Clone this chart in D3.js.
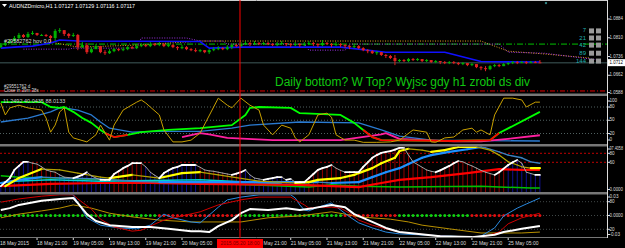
<!DOCTYPE html>
<html>
<head>
<meta charset="utf-8">
<script src="https://cdn.jsdelivr.net/npm/d3@7"></script>
<style>
body { margin: 0; background: #000; }
svg { display: block; }
text { font-family: "Liberation Sans", Arial, sans-serif; }
</style>
</head>
<body>
<svg id="chart" width="625" height="248"></svg>
<script>
// ---- data ----
const firstOpen = 1.0773;
const closes = [1.0781,1.0789,1.0797,1.0809,1.0821,1.0813,1.0825,1.0829,1.0821,1.0821,
1.0817,1.0809,1.0837,1.0840,1.0825,1.0817,1.0821,1.0773,1.0781,1.0753,
1.0765,1.0777,1.0753,1.0749,1.0757,1.0765,1.0761,1.0765,1.0773,1.0769,
1.0777,1.0781,1.0777,1.0785,1.0781,1.0785,1.0777,1.0781,1.0773,1.0769,
1.0773,1.0765,1.0761,1.0757,1.0761,1.0753,1.0761,1.0765,1.0769,1.0765,
1.0773,1.0781,1.0777,1.0785,1.0789,1.0785,1.0789,1.0785,1.0789,1.0785,
1.0781,1.0785,1.0789,1.0785,1.0781,1.0785,1.0781,1.0785,1.0789,1.0785,
1.0781,1.0789,1.0785,1.0781,1.0785,1.0781,1.0777,1.0773,1.0777,1.0769,
1.0761,1.0757,1.0749,1.0753,1.0742,1.0738,1.0730,1.0718,1.0722,1.0718,
1.0726,1.0722,1.0726,1.0718,1.0722,1.0714,1.0718,1.0714,1.0710,1.0714,
1.0710,1.0706,1.0710,1.0702,1.0706,1.0694,1.0690,1.0686,1.0698,1.0702,
1.0698,1.0706,1.0710,1.0714,1.0710,1.0714,1.0710,1.0714,1.0713,1.07117];
const highs = [1.0789,1.0797,1.0805,1.0817,1.0829,1.0825,1.0833,1.0837,1.0829,1.0825,
1.0825,1.0821,1.0844,1.0848,1.0840,1.0829,1.0829,1.0825,1.0793,1.0789,
1.0773,1.0785,1.0777,1.0761,1.0765,1.0769,1.0769,1.0773,1.0777,1.0777,
1.0785,1.0789,1.0785,1.0793,1.0789,1.0793,1.0789,1.0789,1.0785,1.0777,
1.0781,1.0777,1.0769,1.0769,1.0765,1.0761,1.0765,1.0773,1.0777,1.0773,
1.0781,1.0785,1.0785,1.0793,1.0797,1.0793,1.0797,1.0793,1.0793,1.0793,
1.0789,1.0793,1.0797,1.0789,1.0789,1.0793,1.0789,1.0793,1.0797,1.0793,
1.0789,1.0801,1.0793,1.0789,1.0793,1.0789,1.0785,1.0781,1.0785,1.0781,
1.0773,1.0765,1.0761,1.0757,1.0753,1.0746,1.0742,1.0742,1.0726,1.0726,
1.0730,1.0730,1.0730,1.0726,1.0726,1.0722,1.0722,1.0718,1.0718,1.0718,
1.0718,1.0714,1.0714,1.0710,1.0710,1.0706,1.0698,1.0698,1.0702,1.0706,
1.0706,1.0710,1.0714,1.0718,1.0718,1.0718,1.0718,1.0718,1.0718,1.0722];
const lows = [1.0769,1.0777,1.0785,1.0793,1.0805,1.0809,1.0809,1.0821,1.0817,1.0817,
1.0813,1.0793,1.0797,1.0829,1.0817,1.0809,1.0813,1.0761,1.0769,1.0746,
1.0749,1.0765,1.0749,1.0742,1.0746,1.0753,1.0757,1.0757,1.0761,1.0765,
1.0765,1.0773,1.0773,1.0773,1.0777,1.0777,1.0773,1.0773,1.0769,1.0761,
1.0765,1.0761,1.0757,1.0753,1.0753,1.0749,1.0746,1.0757,1.0761,1.0761,
1.0761,1.0765,1.0773,1.0773,1.0781,1.0777,1.0781,1.0781,1.0781,1.0781,
1.0777,1.0777,1.0781,1.0777,1.0773,1.0777,1.0773,1.0777,1.0781,1.0777,
1.0773,1.0777,1.0781,1.0773,1.0777,1.0773,1.0769,1.0765,1.0769,1.0765,
1.0757,1.0749,1.0746,1.0742,1.0738,1.0730,1.0726,1.0702,1.0714,1.0714,
1.0714,1.0718,1.0718,1.0714,1.0714,1.0710,1.0710,1.0706,1.0706,1.0706,
1.0706,1.0702,1.0702,1.0698,1.0698,1.0690,1.0682,1.0678,1.0682,1.0694,
1.0694,1.0698,1.0702,1.0706,1.0706,1.0710,1.0706,1.0710,1.0710,1.0714];

// main pane overlays: [bar, price]
const maBlue = [[0,1.0769],[3,1.0773],[7,1.0777],[11,1.0789],[13,1.0801],[17,1.0797],[44,1.0795],[46,1.0769],[53,1.0773],[75,1.0773],[85,1.0753],[98,1.0753],[106,1.0716],[119,1.0714]];
const dotPurple = [[5,1.0765],[15,1.0765],[16,1.0769],[30,1.0769],[31,1.0809],[41,1.0809],[44,1.0797],[49,1.0797],[50,1.0785],[67,1.0785],[68,1.0761],[76,1.0761],[77,1.0785],[110,1.0785],[112,1.0753],[120,1.0749],[132,1.0722]];
const dotOrange = [[11,1.0793],[17,1.0773],[30,1.0781],[44,1.0797],[92,1.0797],[106,1.0797],[112,1.0757],[120,1.0746],[130,1.0730]];
const levelGreen = 1.0785;
const levelRed = 1.0600;
const bidPrice = 1.07117;
const fibLabels = ["7", "21", "42", "89", "144"];
const fibPrices = [1.0837, 1.0809, 1.0781, 1.0749, 1.0718];
const priceTicks = [1.0884, 1.0810, 1.0736, 1.0662, 1.0588];

// sub window 1 : [bar, value]
const s1Gold = [[0,89],[1,62],[2,78],[4,84],[6,78],[9,73],[10,55],[11,23],[12,39],[13,69],[14,78],[15,23],[16,10],[19,1],[21,17],[22,39],[24,5],[25,39],[27,73],[30,91],[31,96],[32,89],[33,80],[35,62],[36,28],[38,1],[40,1],[42,5],[44,21],[48,100],[50,84],[51,78],[53,100],[55,84],[57,73],[58,39],[60,17],[62,39],[64,32],[65,10],[66,1],[68,17],[70,62],[72,66],[73,57],[74,17],[76,5],[78,5],[80,0],[83,0],[86,1],[88,5],[91,28],[94,23],[95,1],[96,0],[98,10],[100,12],[102,28],[104,32],[105,23],[106,28],[108,17],[109,62],[111,100],[113,100],[115,96],[116,80],[118,91],[119,91]];
const s1Green = [[0,91],[9,91],[11,80],[13,78],[14,80],[16,69],[18,55],[20,44],[22,28],[23,21],[25,12],[28,17],[31,23],[37,28],[44,32],[51,39],[54,62],[55,78],[57,80],[64,78],[66,66],[75,62],[78,44],[80,28],[82,12],[84,5],[100,3],[108,5],[110,21],[119,69]];
const s1Red = [[[23,21],[25,12],[28,17]], [[80,28],[82,12],[84,5],[100,3],[108,5],[110,21]]];
const s1Pink = [[40,12],[44,21],[46,18],[50,10],[60,5],[75,5],[84,18],[85,21],[88,8],[100,2],[106,2],[112,8],[119,16]];
const s1Blue = [[0,46],[6,55],[11,69],[13,78],[14,78],[17,73],[20,62],[22,46],[24,32],[29,23],[35,25],[44,25],[51,32],[55,39],[66,46],[79,44],[84,28],[88,14],[95,5],[119,3]];
const s1Levels = [80, 50, 20];
const s1Ticks = [100, 80, 50, 20, 0];

// sub window 2
const s2White = [7,16,25,43,52,61,61,58,56,50,43,40,38,32,27,26,25,28,32,38,
30,25,21,21,21,34,40,47,52,58,58,58,50,38,31,25,36,42,47,50,
54,54,54,54,49,43,41,40,38,36,34,32,35,38,43,32,25,23,21,23,
25,27,27,21,23,16,16,16,25,34,43,47,50,54,47,42,38,38,38,38,
50,60,70,76,81,83,85,88,92,92,76,61,55,49,43,40,38,42,47,52,
58,63,61,56,52,47,42,38,35,32,38,46,54,60,65,58,38,35,32,32];
const s2HistRed = [[7,12],[25,31],[44,52],[68,79],[80,111]];
const s2Yellow = [[1,7],[4,25],[9,45],[13,43],[17,36],[22,27],[24,25],[29,32],[35,25],[40,36],[44,38],[48,32],[57,18],[65,14],[68,16],[70,21],[75,25],[78,32],[79,36],[82,47],[84,58],[87,70],[88,85],[90,90],[93,87],[95,83],[98,87],[101,94],[105,94],[108,87],[110,76],[112,61],[114,54],[115,50],[117,47],[119,47]];
const s2Blue = [[0,14],[4,21],[9,27],[13,25],[22,23],[29,18],[35,16],[44,16],[70,16],[73,14],[79,16],[82,27],[85,38],[88,47],[90,56],[93,70],[95,76],[99,83],[103,89],[106,94],[107,92],[110,83],[112,76],[115,70],[117,61],[119,58]];
const s2Red = [[0,7],[11,12],[22,14],[33,14],[44,12],[66,10],[79,5],[84,14],[88,21],[95,27],[103,36],[106,40],[110,45],[115,43],[119,43]];
const s2Green = [[0,30],[4,27],[13,25],[22,21],[33,18],[44,14],[68,5],[73,10],[79,7],[88,5],[106,7],[110,5],[117,3],[119,3]];
const s2Cyan = [[0,14],[3,18],[11,21],[22,18],[44,21],[51,18],[62,12]];
const s2Levels = [80, 60];

// sub window 3
const s3Blue = [[0,97],[4,99],[15,97],[16,95],[19,45],[22,29],[26,23],[30,21],[33,29],[35,45],[36,53],[38,45],[42,36],[44,34],[48,68],[50,84],[53,90],[57,95],[64,95],[65,88],[66,73],[67,62],[68,60],[70,68],[73,77],[75,62],[77,47],[79,34],[82,23],[85,14],[88,10],[104,3],[106,5],[109,23],[111,49],[114,66],[116,75],[119,88]];
const s3Red = [[0,79],[4,86],[9,92],[13,95],[16,95],[17,86],[20,64],[22,42],[25,25],[29,16],[31,18],[33,27],[36,40],[40,49],[44,58],[48,73],[53,84],[57,90],[64,90],[65,84],[67,73],[68,66],[70,68],[73,68],[75,66],[77,55],[79,40],[82,29],[85,21],[88,14],[97,5],[104,3],[107,5],[110,14],[112,32],[115,45],[119,55]];
const s3White = [[0,62],[2,66],[4,73],[9,82],[13,86],[16,88],[17,77],[19,53],[21,38],[24,29],[29,25],[33,25],[37,21],[42,16],[44,16],[46,14],[48,27],[51,40],[53,55],[55,64],[59,62],[63,66],[66,62],[69,66],[73,73],[76,68],[78,53],[82,36],[85,23],[88,14],[97,5],[104,3],[106,5],[109,8],[111,14],[115,21],[119,27]];
const s3Gold = [[0,45],[4,53],[9,60],[13,66],[16,73],[20,66],[24,55],[29,47],[35,40],[42,36],[53,36],[59,45],[66,49],[73,58],[76,53],[79,47],[86,42],[90,36],[93,29],[99,21],[106,12],[115,12],[119,14]];
const s3DotRed = [[35,52],[76,87],[104,119]];
const s3Levels = [80, 50, 20];

// axis labels
const timeBars = [8,16,24,32,40,64,72,80,88,96,104,112];
const timeLabels = ["18 May 21:00","19 May 05:00","19 May 13:00","19 May 21:00","20 May 05:00","21 May 05:00","21 May 13:00","21 May 21:00","22 May 05:00","22 May 13:00","22 May 21:00","25 May 05:00"];
const cursorBar = 52.8;
const cursorLabel = "2015.05.20 18:00";

// ---- drawing ----
const svg = d3.select('#chart');
const plotRight = 607;
svg.append('rect').attr('width', 625).attr('height', 248).attr('fill', '#000');

const x = d3.scaleLinear().domain([0, 119]).range([0.8, 539.9]);
const yMain = d3.scaleLinear().domain([1.0588, 1.0884]).range([94, 19]);
const ySub1 = d3.scaleLinear().domain([20, 80]).range([133.5, 107]);
const ySub2 = d3.scaleLinear().domain([0, 60]).range([189.3, 162.3]);
const ySub3 = d3.scaleLinear().domain([20, 80]).range([229.3, 201.7]);

const panes = [
	{id: 'pMain', top: 2, bottom: 93},
	{id: 'pS1', top: 96, bottom: 144},
	{id: 'pS2', top: 146.5, bottom: 192},
	{id: 'pS3', top: 194.5, bottom: 237.5}
];
const defs = svg.append('defs');
panes.forEach(p => {
	defs.append('clipPath').attr('id', p.id).append('rect')
		.attr('x', 0).attr('y', p.top).attr('width', plotRight).attr('height', p.bottom - p.top);
});
const g = {};
panes.forEach(p => g[p.id] = svg.append('g').attr('clip-path', `url(#${p.id})`));

function knotLine(ys) {
	return d3.line().x(d => x(d[0])).y(d => ys(d[1]));
}
function hline(parent, y, color, dash, w) {
	parent.append('line').attr('x1', 0).attr('x2', plotRight).attr('y1', y).attr('y2', y)
		.attr('stroke', color).attr('stroke-width', w || 1).attr('stroke-dasharray', dash || null);
}
function path(parent, data, ys, color, w, dash) {
	parent.append('path').datum(data).attr('d', knotLine(ys)).attr('fill', 'none')
		.attr('stroke', color).attr('stroke-width', w).attr('stroke-dasharray', dash || null)
		.attr('stroke-linejoin', 'round');
}
// split into rising / falling segments
function dirPath(parent, data, ys, upStyle, downStyle) {
	for (let k = 0; k < data.length - 1; k++) {
		const a = data[k], b = data[k + 1];
		const st = b[1] >= a[1] ? upStyle : downStyle;
		parent.append('line').attr('x1', x(a[0])).attr('y1', ys(a[1])).attr('x2', x(b[0])).attr('y2', ys(b[1]))
			.attr('stroke', st[0]).attr('stroke-width', st[1]).attr('stroke-linecap', 'round');
	}
}

// ---- main pane ----
const gm = g.pMain;
hline(gm, yMain(levelGreen), '#00c000', '6,2,1,2', 1);
hline(gm, yMain(bidPrice), '#2a3c3c', null, 1.5);
path(gm, dotOrange, yMain, '#e0a020', 1, '1,1.5');
path(gm, dotPurple, yMain, '#9a30e0', 1, '1,1.5');
path(gm, maBlue, yMain, '#1010ff', 1.6);

closes.forEach((c, i) => {
	const o = i === 0 ? firstOpen : closes[i - 1];
	const up = c >= o;
	const col = up ? '#00b000' : '#e02020';
	const hi = Math.max(highs[i], o, c), lo = Math.min(lows[i], o, c);
	gm.append('line').attr('x1', x(i)).attr('x2', x(i)).attr('y1', yMain(hi)).attr('y2', yMain(lo))
		.attr('stroke', col).attr('stroke-width', 1);
	const yt = yMain(Math.max(o, c)), yb = yMain(Math.min(o, c));
	gm.append('rect').attr('x', x(i) - 1.5).attr('y', yt).attr('width', 3)
		.attr('height', Math.max(1, yb - yt)).attr('fill', col);
});
hline(gm, yMain(levelRed), '#e00000', '5,2,1,2', 1);

// fibonacci labels
fibLabels.forEach((t, k) => {
	const yy = yMain(fibPrices[k]);
	gm.append('text').attr('x', 586).attr('y', yy).attr('text-anchor', 'end')
		.attr('dominant-baseline', 'middle').attr('font-size', 6).attr('fill', '#20b0b0').text(t);
	[589, 596].forEach(xx => gm.append('rect').attr('x', xx).attr('y', yy - 2.5).attr('width', 5).attr('height', 5).attr('fill', '#9a9a9a'));
});
gm.append('circle').attr('cx', 546).attr('cy', 3).attr('r', 1.2).attr('fill', '#308080');

gm.append('text').attr('x', 275).attr('y', 86).attr('font-size', 12).attr('fill', '#10c810')
	.attr('textLength', 255).attr('lengthAdjust', 'spacingAndGlyphs')
	.text('Daily bottom? W Top? Wyjsc gdy h1 zrobi ds div');

// title and object labels
svg.append('path').attr('d', 'M2,4 L7,4 L4.5,7 Z').attr('fill', '#fff');
svg.append('text').attr('x', 9).attr('y', 6).attr('dominant-baseline', 'middle').attr('font-size', 6)
	.attr('fill', '#fff').attr('textLength', 126).attr('lengthAdjust', 'spacingAndGlyphs')
	.text('AUDNZDmicro,H1  1.07127 1.07129 1.07116 1.07117');
svg.append('text').attr('x', 4).attr('y', 41.5).attr('dominant-baseline', 'middle').attr('font-size', 5.5)
	.attr('fill', '#ddd').text('#29582762 hov 0.0');
svg.append('text').attr('x', 4).attr('y', 86.5).attr('dominant-baseline', 'middle').attr('font-size', 4.5)
	.attr('fill', '#ddd').text('#29551762 d');
svg.append('text').attr('x', 4).attr('y', 91.3).attr('dominant-baseline', 'middle').attr('font-size', 4.5)
	.attr('fill', '#ddd').text('Close in 39m 38s');

// ---- sub 1 ----
const g1 = g.pS1;
s1Levels.forEach(v => hline(g1, ySub1(v), '#506060', '1,2', 1));
path(g1, s1Blue, ySub1, '#2a7ad0', 1.3);
path(g1, s1Pink, ySub1, '#ff20a0', 1.8);
path(g1, s1Green, ySub1, '#00ff00', 1.8);
s1Red.forEach(seg => path(g1, seg, ySub1, '#ff0000', 1.8));
path(g1, s1Gold, ySub1, '#c8a000', 1);
svg.append('text').attr('x', 3).attr('y', 101.5).attr('dominant-baseline', 'middle').attr('font-size', 5.5)
	.attr('fill', '#ccc').text('11.2492   40.0435   88.0133');

// ---- sub 2 ----
const g2 = g.pS2;
s2Levels.forEach(v => hline(g2, ySub2(v), '#c00000', '2,2', 1));
s2White.forEach((v, i) => {
	const red = s2HistRed.some(r => i >= r[0] && i <= r[1]);
	g2.append('line').attr('x1', x(i)).attr('x2', x(i)).attr('y1', ySub2(v)).attr('y2', 192)
		.attr('stroke', red ? '#900000' : '#101090').attr('stroke-width', 1);
});
path(g2, s2Green, ySub2, '#00c000', 1.5);
path(g2, s2Cyan, ySub2, '#00d0d0', 1.5);
path(g2, s2Red, ySub2, '#ff0000', 2.2);
dirPath(g2, s2Blue, ySub2, ['#1e90ff', 2.2], ['#3a80c0', 1.4]);
dirPath(g2, s2Yellow, ySub2, ['#ffff00', 2.2], ['#b0a000', 1.2]);
dirPath(g2, s2White.map((v, i) => [i, v]), ySub2, ['#ffffff', 1.8], ['#a0a0a0', 1]);

// ---- sub 3 ----
const g3 = g.pS3;
s3Levels.forEach(v => hline(g3, ySub3(v), '#404848', '1,2', 1));
d3.range(120).forEach(i => {
	const red = s3DotRed.some(r => i >= r[0] && i <= r[1]);
	g3.append('circle').attr('cx', x(i)).attr('cy', ySub3(50)).attr('r', 1.5)
		.attr('fill', red ? '#e01010' : '#10d010');
});
path(g3, s3Gold, ySub3, '#b89000', 1);
path(g3, s3Blue, ySub3, '#2a8ae0', 1);
path(g3, s3Red, ySub3, '#d00000', 1);
path(g3, s3White, ySub3, '#ffffff', 2);

// ---- frame ----
svg.append('line').attr('x1', 0).attr('x2', plotRight).attr('y1', 0.5).attr('y2', 0.5).attr('stroke', '#ccc');
[[93.5, 96], [144, 146.5], [192, 194.5]].forEach(b => {
	svg.append('rect').attr('x', 0).attr('y', b[0]).attr('width', plotRight).attr('height', b[1] - b[0]).attr('fill', '#777');
});
svg.append('line').attr('x1', 0).attr('x2', plotRight).attr('y1', 237.5).attr('y2', 237.5).attr('stroke', '#777');
svg.append('line').attr('x1', plotRight + 0.5).attr('x2', plotRight + 0.5).attr('y1', 0).attr('y2', 238).attr('stroke', '#ddd');

// cursor line
svg.append('line').attr('x1', x(cursorBar)).attr('x2', x(cursorBar)).attr('y1', 0).attr('y2', 238)
	.attr('stroke', '#ff0000').attr('stroke-width', 1);

// right axis
function rLabel(y, t, box) {
	svg.append('line').attr('x1', plotRight).attr('x2', plotRight + 3).attr('y1', y).attr('y2', y).attr('stroke', '#ddd');
	if (box) svg.append('rect').attr('x', 608).attr('y', y - 3.5).attr('width', 17).attr('height', 7).attr('fill', '#fff');
	const tx = svg.append('text').attr('x', 609.5).attr('y', y).attr('dominant-baseline', 'middle').attr('font-size', 4.6)
		.attr('fill', box ? '#000' : '#ddd').text(t);
	if (t.length > 5) tx.attr('textLength', 13.5).attr('lengthAdjust', 'spacingAndGlyphs');
}
priceTicks.forEach(p => rLabel(Math.min(yMain(p), 92.5), p.toFixed(4)));
rLabel(yMain(bidPrice), bidPrice.toFixed(4), true);
s1Ticks.forEach(v => rLabel(Math.max(101, Math.min(140, ySub1(v))), String(v)));
rLabel(149, '97.4058');
rLabel(ySub2(80), '80');
rLabel(ySub2(60), '60');
rLabel(189.5, '0.0000');
rLabel(197, '0.03');
rLabel(ySub3(80), '80');
rLabel(ySub3(50), '0.0000');
rLabel(ySub3(20), '20');
rLabel(234.5, '-0.03');

// time axis
svg.append('text').attr('x', 0).attr('y', 244).attr('dominant-baseline', 'middle').attr('font-size', 5)
	.attr('fill', '#ddd').text('18 May 2015');
timeBars.forEach((b, k) => {
	svg.append('line').attr('x1', x(b)).attr('x2', x(b)).attr('y1', 238).attr('y2', 240).attr('stroke', '#ddd');
	svg.append('text').attr('x', x(b)).attr('y', 244).attr('dominant-baseline', 'middle').attr('font-size', 5)
		.attr('fill', '#ddd').text(timeLabels[k]);
});
const cx = x(cursorBar);
svg.append('text').attr('x', cx + 23.5).attr('y', 244).attr('dominant-baseline', 'middle').attr('font-size', 5)
	.attr('fill', '#ddd').text('May 21:00');
svg.append('rect').attr('x', cx - 23).attr('y', 239).attr('width', 46).attr('height', 9).attr('fill', '#ff0000');
svg.append('text').attr('x', cx).attr('y', 244).attr('text-anchor', 'middle').attr('dominant-baseline', 'middle')
	.attr('font-size', 5).attr('fill', '#700000').text(cursorLabel);
</script>
</body>
</html>
